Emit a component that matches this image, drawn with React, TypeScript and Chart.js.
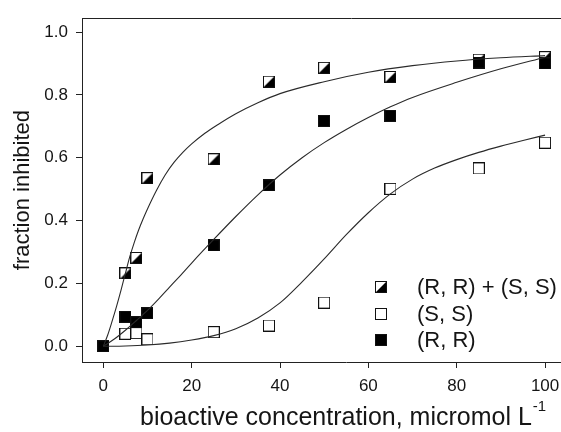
import { useEffect, useRef } from 'react';
import { Chart, registerables } from 'chart.js';

Chart.register(...registerables);

// ---- data ----
const concentrations = [0, 5, 7.5, 10, 25, 37.5, 50, 65, 85, 100];
const mixValues = [0, 0.232, 0.281, 0.535, 0.595, 0.842, 0.886, 0.857, 0.912, 0.92];
const ssValues = [0, 0.04, 0.042, 0.022, 0.045, 0.066, 0.139, 0.501, 0.566, 0.648];
const rrValues = [0, 0.094, 0.076, 0.105, 0.321, 0.512, 0.717, 0.733, 0.903, 0.9];

const mixFitX = [0, 1, 2, 3, 4, 5, 6, 7, 8, 9, 10, 12, 14, 16, 18, 20, 23, 26, 30, 35, 40, 50, 60, 70, 80, 90, 100];
const mixFitY = [0, 0.036, 0.08, 0.127, 0.178, 0.232, 0.285, 0.33, 0.37, 0.405, 0.437, 0.495, 0.545, 0.585, 0.617, 0.644, 0.678, 0.706, 0.74, 0.775, 0.804, 0.842, 0.872, 0.893, 0.908, 0.918, 0.925];

const rrFitX = [0, 2.5, 5, 7.5, 10, 12.5, 15, 17.5, 20, 25, 30, 35, 40, 45, 50, 55, 60, 65, 70, 80, 90, 100];
const rrFitY = [0, 0.023, 0.051, 0.082, 0.114, 0.15, 0.188, 0.226, 0.265, 0.34, 0.413, 0.482, 0.545, 0.6, 0.648, 0.69, 0.728, 0.762, 0.792, 0.84, 0.883, 0.92];

const ssFitX = [0, 5, 10, 15, 20, 25, 30, 35, 40, 45, 50, 55, 60, 65, 70, 75, 80, 85, 90, 95, 100];
const ssFitY = [0, 0.001, 0.004, 0.01, 0.02, 0.034, 0.056, 0.09, 0.138, 0.205, 0.278, 0.355, 0.425, 0.485, 0.532, 0.567, 0.594, 0.617, 0.637, 0.655, 0.672];

const seriesLabels = ['(R, R) + (S, S)', '(S, S)', '(R, R)'];
const xTicks = [0, 20, 40, 60, 80, 100];
const yTicks = [0, 0.2, 0.4, 0.6, 0.8, 1.0];
const xTitleMain = 'bioactive concentration, micromol L';
const xTitleSup = '-1';
const yTitle = 'fraction inhibited';

const FONT = '"Liberation Sans", Arial, Helvetica, sans-serif';
const INK = '#151515';

function makeMarker(kind: 'half' | 'open' | 'filled'): HTMLCanvasElement {
  const c = document.createElement('canvas');
  c.width = 12;
  c.height = 12;
  const g = c.getContext('2d')!;
  g.fillStyle = kind === 'filled' ? '#000' : '#fff';
  g.fillRect(0, 0, 12, 12);
  if (kind === 'half') {
    g.fillStyle = '#000';
    g.beginPath();
    g.moveTo(12, 0);
    g.lineTo(12, 12);
    g.lineTo(0, 12);
    g.closePath();
    g.fill();
  }
  g.strokeStyle = '#111';
  g.lineWidth = 1;
  g.strokeRect(0.5, 0.5, 11, 11);
  return c;
}

const pairs = (xs: number[], ys: number[]) => xs.map((x, i) => ({ x, y: ys[i] }));

export default function App() {
  const ref = useRef<HTMLCanvasElement>(null);

  useEffect(() => {
    const canvas = ref.current;
    if (!canvas) return;
    const markers = [makeMarker('half'), makeMarker('open'), makeMarker('filled')];
    const pointSets = [mixValues, ssValues, rrValues];
    const drawOrder = [3, 2, 1];

    const scatterSets = pointSets.map((vals, i) => ({
      label: seriesLabels[i],
      data: pairs(concentrations, vals),
      pointStyle: markers[i],
      pointRadius: 6,
      showLine: false,
      order: drawOrder[i],
      inLegend: true,
    }));

    const curve = (xs: number[], ys: number[]) => ({
      label: '',
      data: pairs(xs, ys),
      showLine: true,
      pointRadius: 0,
      borderColor: '#2a2a2a',
      borderWidth: 1.1,
      cubicInterpolationMode: 'monotone' as const,
      fill: false,
      order: 0,
    });

    const framePlugin = {
      id: 'frameTop',
      afterDraw(chart: any) {
        const { ctx, chartArea } = chart;
        ctx.save();
        ctx.strokeStyle = '#222';
        ctx.lineWidth = 1;
        ctx.beginPath();
        ctx.moveTo(chartArea.left, Math.round(chartArea.top) + 0.5);
        ctx.lineTo(chartArea.right + 20, Math.round(chartArea.top) + 0.5);
        ctx.stroke();
        ctx.restore();
      },
    };

    const xTitlePlugin = {
      id: 'xTitleSup',
      afterDraw(chart: any) {
        const { ctx } = chart;
        ctx.save();
        ctx.fillStyle = INK;
        ctx.textAlign = 'left';
        ctx.textBaseline = 'alphabetic';
        ctx.font = `25px ${FONT}`;
        const x0 = 140;
        const base = 425;
        ctx.fillText(xTitleMain, x0, base);
        const w = ctx.measureText(xTitleMain).width;
        ctx.font = `15px ${FONT}`;
        ctx.fillText(xTitleSup, x0 + w + 1, base - 14);
        ctx.restore();
      },
    };

    const legendPlugin = {
      id: 'insideLegend',
      afterDraw(chart: any) {
        const { ctx } = chart;
        const items = chart.data.datasets.filter((d: any) => d.inLegend);
        ctx.save();
        ctx.font = `22px ${FONT}`;
        ctx.fillStyle = INK;
        ctx.textBaseline = 'middle';
        ctx.textAlign = 'left';
        items.forEach((d: any, i: number) => {
          const y = 287 + i * 26.5;
          const img = d.pointStyle as HTMLCanvasElement;
          ctx.drawImage(img, Math.round(380.5 - img.width / 2), Math.round(y - img.height / 2));
          ctx.fillText(d.label, 417, y + 1);
        });
        ctx.restore();
      },
    };

    const chart = new Chart(canvas, {
      type: 'scatter',
      data: {
        datasets: [
          ...scatterSets,
          curve(mixFitX, mixFitY),
          curve(ssFitX, ssFitY),
          curve(rrFitX, rrFitY),
        ] as any,
      },
      options: {
        animation: false,
        responsive: false,
        devicePixelRatio: 1,
        layout: { padding: { top: 14, right: 10, left: 0, bottom: 0 } },
        plugins: {
          legend: { display: false },
          tooltip: { enabled: false },
        },
        scales: {
          x: {
            type: 'linear',
            min: -4.82,
            max: 114.7,
            afterBuildTicks: (s: any) => {
              s.ticks = xTicks.map((v) => ({ value: v }));
            },
            afterFit: (s: any) => {
              s.height = 70;
            },
            ticks: {
              font: { size: 17, family: FONT },
              color: INK,
              padding: 8,
              callback: (v: any) => String(v),
            },
            grid: { drawOnChartArea: false, tickLength: 6, color: '#222' },
            border: { color: '#222', width: 1 },
            title: { display: false },
          },
          y: {
            type: 'linear',
            min: -0.05,
            max: 1.044,
            afterBuildTicks: (s: any) => {
              s.ticks = yTicks.map((v) => ({ value: v }));
            },
            afterFit: (s: any) => {
              s.width = 82;
            },
            ticks: {
              font: { size: 17, family: FONT },
              color: INK,
              padding: 8,
              callback: (v: any) => Number(v).toFixed(1),
            },
            grid: { drawOnChartArea: false, tickLength: 6, color: '#222' },
            border: { color: '#222', width: 1 },
            title: {
              display: true,
              text: yTitle,
              font: { size: 22, family: FONT },
              color: INK,
              padding: { top: 10, bottom: 0 },
            },
          },
        },
      },
      plugins: [framePlugin, xTitlePlugin, legendPlugin],
    });

    return () => chart.destroy();
  }, []);

  return (
    <div
      style={{
        position: 'absolute',
        left: 0,
        top: 0,
        width: 561,
        height: 432,
        overflow: 'hidden',
        background: '#fff',
      }}
    >
      <canvas ref={ref} width={620} height={432} style={{ display: 'block', width: 620, height: 432 }} />
    </div>
  );
}
